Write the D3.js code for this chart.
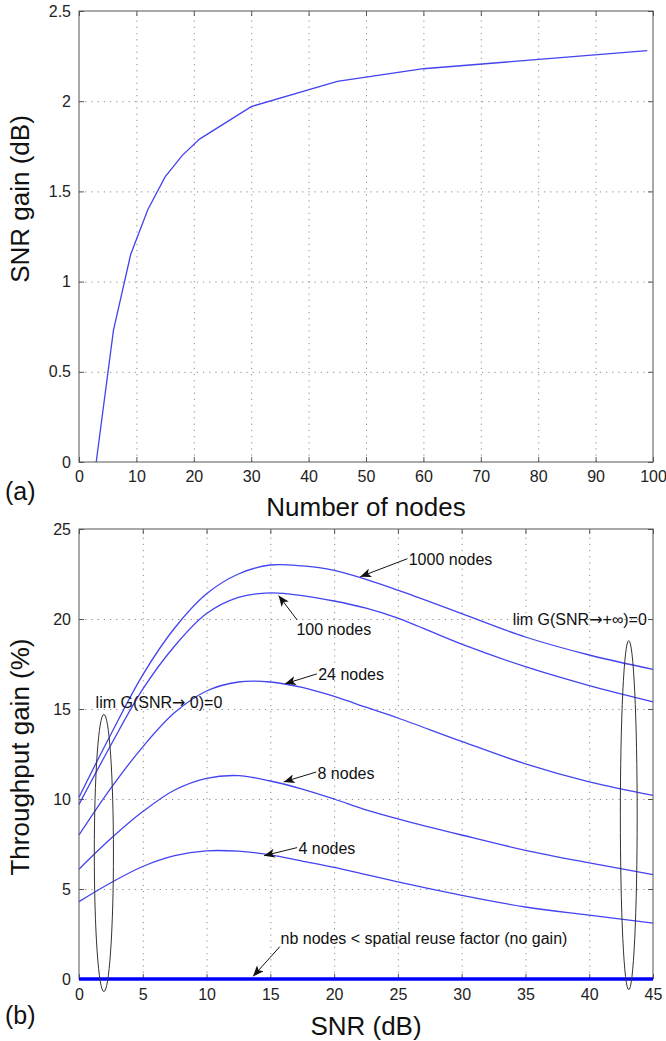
<!DOCTYPE html>
<html>
<head>
<meta charset="utf-8">
<script src="https://cdn.jsdelivr.net/npm/d3@7"></script>
<style>
  body { margin: 0; background: #fff; }
  text { font-family: "Liberation Sans", Arial, Helvetica, sans-serif; }
</style>
</head>
<body>
<div id="chart"></div>
<script>
// (a) SNR gain vs number of nodes
const nodeCounts = [3, 6, 9, 12, 15, 18, 21, 30, 45, 60, 99];
const snrGainDb = [0, 0.73, 1.15, 1.40, 1.58, 1.70, 1.79, 1.97, 2.11, 2.18, 2.28];
const topXTicks = [0, 10, 20, 30, 40, 50, 60, 70, 80, 90, 100];
const topYTicks = [0, 0.5, 1, 1.5, 2, 2.5];

// (b) throughput gain vs SNR, one array per network size
const snrDb = [0, 2.5, 5, 7.5, 10, 12.5, 15, 17.5, 20, 22.5, 25, 30, 35, 40, 45];
const gain1000 = [10.1, 13.6, 16.9, 19.5, 21.4, 22.5, 23.0, 22.95, 22.7, 22.2, 21.6, 20.3, 19.0, 18.0, 17.2];
const gain100 = [9.7, 13.0, 16.1, 18.5, 20.3, 21.2, 21.45, 21.3, 21.0, 20.6, 20.05, 18.6, 17.35, 16.3, 15.4];
const gain24 = [8.0, 10.6, 12.9, 14.8, 16.0, 16.5, 16.5, 16.2, 15.7, 15.1, 14.5, 13.2, 11.95, 10.95, 10.2];
const gain8 = [6.1, 7.8, 9.3, 10.5, 11.15, 11.3, 11.0, 10.55, 10.0, 9.4, 8.9, 8.0, 7.15, 6.45, 5.8];
const gain4 = [4.3, 5.35, 6.25, 6.85, 7.12, 7.1, 6.9, 6.55, 6.2, 5.8, 5.4, 4.65, 4.0, 3.55, 3.1];
const gainNoReuse = [0, 0, 0, 0, 0, 0, 0, 0, 0, 0, 0, 0, 0, 0, 0];
const bottomXTicks = [0, 5, 10, 15, 20, 25, 30, 35, 40, 45];
const bottomYTicks = [0, 5, 10, 15, 20, 25];

// text arrows of panel (b), in data units: text start, arrow tail, arrow head
const arrowNotes = [
    { label: "1000 nodes", text: [25.85, 23.3], tail: [25.75, 23.35], head: [22.05, 22.35] },
    { label: "100 nodes", text: [17.05, 19.4], tail: [17.1, 19.95], head: [15.65, 21.3] },
    { label: "24 nodes", text: [18.75, 16.9], tail: [18.65, 16.95], head: [16.15, 16.4] },
    { label: "8 nodes", text: [18.7, 11.45], tail: [18.6, 11.5], head: [16.05, 10.95] },
    { label: "4 nodes", text: [17.2, 7.25], tail: [17.1, 7.3], head: [14.5, 6.85] },
    { label: "nb nodes < spatial reuse factor (no gain)", text: [15.8, 2.25], tail: [15.75, 1.8], head: [13.65, 0.15] }
];
// limit labels: text before the arrow, text after it, start position
const limitNotes = [
    { before: "lim G(SNR", after: " 0)=0", text: [1.3, 15.35] },
    { before: "lim G(SNR", after: "+\u221e)=0", text: [34.0, 20.0] }
];
// ovals: centre x, centre y, half width, half height (data units)
const ovals = [
    [1.95, 7.0, 0.75, 7.7],
    [43.1, 9.1, 0.66, 9.7]
];

const width = 666, height = 1041;
const lineColor = "#4343f0";

const svg = d3.select("#chart").append("svg")
    .attr("width", width)
    .attr("height", height);

const defs = svg.append("defs");
defs.append("marker")
    .attr("id", "arrowhead")
    .attr("viewBox", "0 0 12 10")
    .attr("refX", 12)
    .attr("refY", 5)
    .attr("markerWidth", 12)
    .attr("markerHeight", 9)
    .attr("markerUnits", "userSpaceOnUse")
    .attr("orient", "auto")
    .append("path")
    .attr("d", "M0,0 L12,5 L0,10 L3,5 Z")
    .attr("fill", "#111");

// frame, grid, inside ticks and labels of one panel
function drawPanel(g, x, y, w, h, xTicks, yTicks, labelPad) {
    const fmt = d => String(d);

    // dotted grid
    g.append("g")
        .attr("class", "grid")
        .attr("transform", `translate(0,${h})`)
        .call(d3.axisBottom(x).tickValues(xTicks.slice(1, -1)).tickSize(-h).tickFormat(""));
    g.append("g")
        .attr("class", "grid")
        .call(d3.axisLeft(y).tickValues(yTicks.slice(1, -1)).tickSize(-w).tickFormat(""));
    g.selectAll(".grid .domain").remove();
    g.selectAll(".grid line")
        .attr("stroke", "#8a8a8a")
        .attr("stroke-width", 1)
        .attr("stroke-dasharray", "1.2,5");

    // ticks on all four sides, pointing inward
    const bottom = g.append("g")
        .attr("transform", `translate(0,${h})`)
        .call(d3.axisBottom(x).tickValues(xTicks).tickSize(-5).tickPadding(labelPad).tickFormat(fmt));
    const left = g.append("g")
        .call(d3.axisLeft(y).tickValues(yTicks).tickSize(-5).tickPadding(8).tickFormat(fmt));
    g.append("g")
        .call(d3.axisTop(x).tickValues(xTicks).tickSize(-5).tickFormat(""));
    g.append("g")
        .attr("transform", `translate(${w},0)`)
        .call(d3.axisRight(y).tickValues(yTicks).tickSize(-5).tickFormat(""));

    g.selectAll(".domain").remove();
    g.selectAll(".tick line").filter(function () { return !this.closest(".grid"); })
        .attr("stroke", "#555");
    [bottom, left].forEach(a => a.selectAll("text")
        .style("font-size", "16px")
        .attr("fill", "#222"));

    g.append("rect")
        .attr("width", w)
        .attr("height", h)
        .attr("fill", "none")
        .attr("stroke", "#555")
        .attr("stroke-width", 1);
}

// ---------- panel (a) ----------
const topBox = { left: 79, top: 11, w: 574, h: 451 };
const gTop = svg.append("g").attr("transform", `translate(${topBox.left},${topBox.top})`);
const xTop = d3.scaleLinear().domain([0, 100]).range([0, topBox.w]);
const yTop = d3.scaleLinear().domain([0, 2.5]).range([topBox.h, 0]);

drawPanel(gTop, xTop, yTop, topBox.w, topBox.h, topXTicks, topYTicks, 9);

gTop.append("path")
    .datum(nodeCounts.map((n, i) => [n, snrGainDb[i]]))
    .attr("fill", "none")
    .attr("stroke", lineColor)
    .attr("stroke-width", 1.3)
    .attr("d", d3.line().x(d => xTop(d[0])).y(d => yTop(d[1])));

svg.append("text")
    .attr("x", topBox.left + topBox.w / 2)
    .attr("y", 516)
    .attr("text-anchor", "middle")
    .style("font-size", "26px")
    .attr("fill", "#111")
    .text("Number of nodes");

svg.append("text")
    .attr("transform", "translate(29,199) rotate(-90)")
    .attr("text-anchor", "middle")
    .style("font-size", "26px")
    .attr("fill", "#111")
    .text("SNR gain (dB)");

svg.append("text")
    .attr("x", 5)
    .attr("y", 500)
    .style("font-size", "25px")
    .attr("fill", "#111")
    .text("(a)");

// ---------- panel (b) ----------
const botBox = { left: 79, top: 529, w: 574, h: 450 };
const gBot = svg.append("g").attr("transform", `translate(${botBox.left},${botBox.top})`);
const xBot = d3.scaleLinear().domain([0, 45]).range([0, botBox.w]);
const yBot = d3.scaleLinear().domain([0, 25]).range([botBox.h, 0]);

drawPanel(gBot, xBot, yBot, botBox.w, botBox.h, bottomXTicks, bottomYTicks, 10);

const smooth = d3.line()
    .x(d => xBot(d[0]))
    .y(d => yBot(d[1]))
    .curve(d3.curveCatmullRom.alpha(0.5));

[gain1000, gain100, gain24, gain8, gain4].forEach(series => {
    gBot.append("path")
        .datum(snrDb.map((s, i) => [s, series[i]]))
        .attr("fill", "none")
        .attr("stroke", lineColor)
        .attr("stroke-width", 1.3)
        .attr("d", smooth);
});

gBot.append("path")
    .datum(snrDb.map((s, i) => [s, gainNoReuse[i]]))
    .attr("fill", "none")
    .attr("stroke", "#0000ff")
    .attr("stroke-width", 3.5)
    .attr("d", smooth);

// ovals marking the limits
ovals.forEach(o => {
    gBot.append("ellipse")
        .attr("cx", xBot(o[0]))
        .attr("cy", yBot(o[1]))
        .attr("rx", xBot(o[2]) - xBot(0))
        .attr("ry", yBot(0) - yBot(o[3]))
        .attr("fill", "none")
        .attr("stroke", "#333")
        .attr("stroke-width", 1);
});

arrowNotes.forEach(a => {
    gBot.append("line")
        .attr("x1", xBot(a.tail[0]))
        .attr("y1", yBot(a.tail[1]))
        .attr("x2", xBot(a.head[0]))
        .attr("y2", yBot(a.head[1]))
        .attr("stroke", "#111")
        .attr("stroke-width", 1)
        .attr("marker-end", "url(#arrowhead)");
    gBot.append("text")
        .attr("x", xBot(a.text[0]))
        .attr("y", yBot(a.text[1]))
        .attr("dy", "0.35em")
        .style("font-size", "16px")
        .attr("fill", "#111")
        .text(a.label);
});

limitNotes.forEach(n => {
    const t = gBot.append("text")
        .attr("x", xBot(n.text[0]))
        .attr("y", yBot(n.text[1]))
        .attr("dy", "0.35em")
        .style("font-size", "16px")
        .attr("fill", "#111");
    t.append("tspan").text(n.before);
    t.append("tspan")
        .style("font-family", "'DejaVu Sans', sans-serif")
        .text("\u2192");
    t.append("tspan").text(n.after);
});

svg.append("text")
    .attr("x", botBox.left + botBox.w / 2)
    .attr("y", 1035)
    .attr("text-anchor", "middle")
    .style("font-size", "26px")
    .attr("fill", "#111")
    .text("SNR (dB)");

svg.append("text")
    .attr("transform", "translate(29,757) rotate(-90)")
    .attr("text-anchor", "middle")
    .style("font-size", "26px")
    .attr("fill", "#111")
    .text("Throughput gain (%)");

svg.append("text")
    .attr("x", 5)
    .attr("y", 1024)
    .style("font-size", "25px")
    .attr("fill", "#111")
    .text("(b)");
</script>
</body>
</html>
